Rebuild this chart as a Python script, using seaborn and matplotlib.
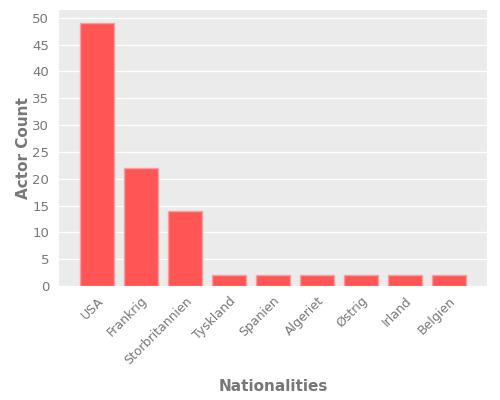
import matplotlib
matplotlib.use("Agg")
import matplotlib.pyplot as plt
import seaborn as sns
import pandas as pd

countries = ["USA", "Frankrig", "Storbritannien", "Tyskland", "Spanien", "Algeriet", "Østrig", "Irland", "Belgien"]
counts = [49, 22, 14, 2, 2, 2, 2, 2, 2]

df = pd.DataFrame({"Nationalities": countries, "Actor Count": counts})

sns.set_theme(style="darkgrid")
plt.rcParams['font.family'] = ['DejaVu Sans']
fig = plt.figure(figsize=(5, 4), dpi=100)
ax = fig.add_axes([0.118, 0.285, 0.856, 0.69])
ax.set_facecolor("#EBEBEB")
sns.barplot(data=df, x="Nationalities", y="Actor Count", color="#FF5555", saturation=1,
            width=0.77, edgecolor="#F2A0A0", linewidth=1, ax=ax)
ax.set_xlim(-0.86, 8.86)
ax.set_ylim(0, 51.45)
ax.set_yticks(range(0, 51, 5))
ax.grid(axis="y", color="white", linewidth=1)
ax.grid(axis="x", visible=False)
for s in ax.spines.values():
    s.set_visible(False)
ax.spines["bottom"].set_position(("outward", 3))
ax.spines["left"].set_position(("outward", 3))
ax.tick_params(axis="both", colors="#AAAAAA", labelcolor="#777777", labelsize=9, length=2, width=1, direction="out")
ax.tick_params(axis="y", pad=2, labelsize=9.5)
ax.tick_params(axis="x", pad=1)
plt.setp(ax.get_xticklabels(), rotation=45, ha="right", rotation_mode="anchor")
ax.set_xlabel("Nationalities", fontsize=11, fontweight="bold", color="#777777", labelpad=9)
ax.set_ylabel("Actor Count", fontsize=11, fontweight="bold", color="#777777", labelpad=1)
fig.savefig("out.png", dpi=100)
